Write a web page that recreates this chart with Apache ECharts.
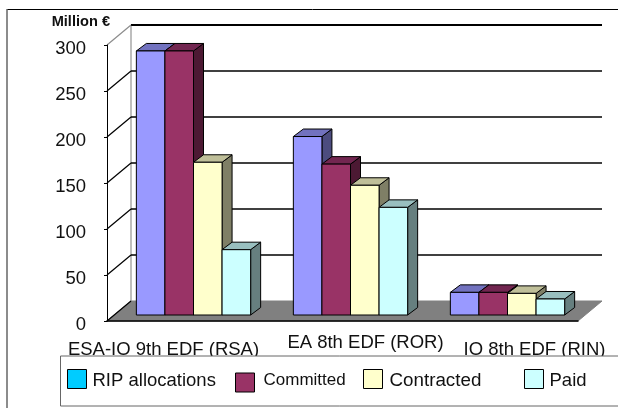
<!DOCTYPE html>
<html>
<head>
<meta charset="utf-8">
<style>html,body{margin:0;padding:0;background:#fff}#chart{width:618px;height:408px}</style>
<script src="https://cdn.jsdelivr.net/npm/echarts@6/dist/echarts.min.js"></script>
</head>
<body>
<div id="chart"></div>
<script>
// Funding per regional programme, million euro
const categories = ['ESA-IO 9th EDF (RSA)', 'EA 8th EDF (ROR)', 'IO 8th EDF (RIN)'];
const ripAllocations = [287, 194, 24.6];
const committed = [287, 164, 24.6];
const contracted = [166, 141, 23.5];
const paid = [71, 117, 17.4];
const yTicks = [0, 50, 100, 150, 200, 250, 300];
const seriesNames = ['RIP allocations', 'Committed', 'Contracted', 'Paid'];
const seriesValues = [ripAllocations, committed, contracted, paid];

// Face colours of each bar: front, top, side
const faces = [
  ['#9999FF', '#7272BF', '#4C4C7F'],
  ['#993366', '#722650', '#4C1933'],
  ['#FFFFCC', '#BFBF99', '#7F7F66'],
  ['#CCFFFF', '#99BFBF', '#667F7F']
];
const legendSwatch = ['#00CCFF', '#993366', '#FFFFCC', '#CCFFFF'];

// Oblique projection of the box and of the bars inside it
const WALL_DX = 24, WALL_DY = -20;
const BAR_DX = 10, BAR_DY = -7.5;
const BAR_PLANE_DX = 8, BAR_PLANE_DY = -6;
const BAR_SHARE = 0.182;

const ink = { stroke: '#000', lineWidth: 1 };

function renderBar(index) {
  return function (params, api) {
    const cat = api.value(0);
    const top = api.coord([cat, api.value(1)]);
    const base = api.coord([cat, 0]);
    const w = api.size([1, 0])[0] * BAR_SHARE;
    const x0 = top[0] + BAR_PLANE_DX + (index - 2) * w;
    const x1 = x0 + w;
    const yT = top[1] + BAR_PLANE_DY;
    const yB = base[1] + BAR_PLANE_DY;
    const poly = (points, fill) => ({
      type: 'polygon',
      shape: { points },
      style: Object.assign({ fill }, ink)
    });
    return {
      type: 'group',
      children: [
        poly([[x1, yT], [x1 + BAR_DX, yT + BAR_DY], [x1 + BAR_DX, yB + BAR_DY], [x1, yB]], faces[index][2]),
        poly([[x0, yT], [x0 + BAR_DX, yT + BAR_DY], [x1 + BAR_DX, yT + BAR_DY], [x1, yT]], faces[index][1]),
        poly([[x0, yT], [x1, yT], [x1, yB], [x0, yB]], faces[index][0])
      ]
    };
  };
}

// Back wall rules and the slanted strokes that join them to the value axis
function renderWall(params, api) {
  const v = api.value(0);
  const left = api.coord([0, v]);
  const xLeft = params.coordSys.x;
  const xRight = xLeft + params.coordSys.width;
  const y = left[1];
  const isTop = v === yTicks[yTicks.length - 1];
  const children = [];
  if (v > 0) {
    children.push({
      type: 'line',
      shape: { x1: xLeft + WALL_DX, y1: y + WALL_DY, x2: xRight + WALL_DX, y2: y + WALL_DY },
      style: { stroke: '#000', lineWidth: isTop ? 2 : 1.5 }
    });
  }
  children.push({
    type: 'line',
    shape: { x1: xLeft, y1: y, x2: xLeft + WALL_DX, y2: y + WALL_DY },
    style: { stroke: isTop ? '#8c8c8c' : '#000', lineWidth: 1.2 }
  });
  return { type: 'group', children };
}

function renderFloor(params, api) {
  const y0 = api.coord([0, 0])[1];
  const yTop = api.coord([0, yTicks[yTicks.length - 1]])[1];
  const xL = params.coordSys.x;
  const xR = xL + params.coordSys.width;
  return {
    type: 'group',
    children: [
      {
        type: 'line',
        shape: { x1: xL + WALL_DX, y1: yTop + WALL_DY, x2: xL + WALL_DX, y2: y0 + WALL_DY },
        style: { stroke: '#a8a8a8', lineWidth: 1.5 }
      },
      {
        type: 'polygon',
        shape: { points: [[xL, y0], [xL + WALL_DX, y0 + WALL_DY], [xR + WALL_DX, y0 + WALL_DY], [xR, y0]] },
        style: { fill: '#808080', stroke: '#808080', lineWidth: 1 }
      }
    ]
  };
}

const legendLayout = [
  { left: 67, top: 369, gap: 1, size: 18.5, above: 4, below: 0 },
  { left: 235, top: 372, gap: 4, size: 17, above: 0, below: 4 },
  { left: 363, top: 369, gap: 2, size: 18.8, above: 4, below: 0 },
  { left: 524, top: 369, gap: 1, size: 18.5, above: 4, below: 0 }
];

const option = {
  animation: false,
  backgroundColor: '#fff',
  textStyle: { fontFamily: '"Liberation Sans", Arial, sans-serif' },
  grid: { left: 107, right: 40, top: 45, bottom: 87 },
  xAxis: {
    type: 'category',
    z: 4,
    data: categories,
    axisLine: { lineStyle: { color: '#000', width: 1.5 } },
    axisTick: { alignWithLabel: false, length: 5, lineStyle: { color: '#000' } },
    axisLabel: {
      interval: 0,
      margin: 11,
      color: '#111',
      formatter: (value, i) => `{c${i}|${value}}`,
      rich: {
        c0: { fontSize: 18.5, padding: [17, 44, 0, 0], lineHeight: 18, fontFamily: '"Liberation Sans"' },
        c1: { fontSize: 18.5, padding: [3, 0, 0, 46], lineHeight: 18, fontFamily: '"Liberation Sans"' },
        c2: { fontSize: 18.5, padding: [17, 0, 0, 70], lineHeight: 18, fontFamily: '"Liberation Sans"' }
      }
    }
  },
  yAxis: {
    type: 'value',
    z: 4,
    min: 0,
    max: 300,
    interval: 50,
    name: 'Million €',
    nameLocation: 'end',
    nameGap: 16,
    nameTextStyle: {
      color: '#111', fontSize: 14.6, fontWeight: 'bold',
      fontFamily: '"Liberation Sans"', align: 'right', padding: [0, -3, 0, 0]
    },
    axisLine: { show: true, lineStyle: { color: '#000', width: 1 } },
    axisTick: { show: true, length: 3, lineStyle: { color: '#000' } },
    splitLine: { show: false },
    axisLabel: {
      color: '#111', margin: 21,
      formatter: value => `{v|${value}}`,
      rich: {
        v: { fontSize: 18.5, padding: [8, 0, 0, 0], fontFamily: '"Liberation Sans"' }
      }
    }
  },
  legend: seriesNames.map((name, i) => ({
    left: legendLayout[i].left,
    top: legendLayout[i].top,
    z: 6,
    padding: 0,
    itemWidth: 19,
    itemHeight: 19,
    selectedMode: false,
    formatter: label => `{t|${label}}`,
    textStyle: {
      color: '#111',
      rich: {
        t: {
          fontSize: legendLayout[i].size,
          color: '#111',
          fontFamily: '"Liberation Sans"',
          padding: [legendLayout[i].above, 0, legendLayout[i].below, legendLayout[i].gap]
        }
      }
    },
    data: [{
      name,
      icon: 'rect',
      itemStyle: { color: legendSwatch[i], borderColor: '#000', borderWidth: 1 }
    }]
  })),
  graphic: [
    { type: 'line', z: 1, silent: true, shape: { x1: 7, y1: 9.5, x2: 618, y2: 9.5 }, style: { stroke: '#000', lineWidth: 1 } },
    { type: 'line', z: 1, silent: true, shape: { x1: 7, y1: 9, x2: 7, y2: 408 }, style: { stroke: '#666', lineWidth: 1.5 } },
    {
      type: 'rect', z: 5, silent: true,
      shape: { x: 60.5, y: 356, width: 560, height: 50 },
      style: { fill: '#fff', stroke: '#666', lineWidth: 1 }
    }
  ],
  series: [
    {
      type: 'custom', name: 'floor', z: 1, silent: true,
      coordinateSystem: 'cartesian2d',
      data: [[0, 0]],
      clip: false,
      renderItem: renderFloor
    },
    {
      type: 'custom', name: 'wall', z: 2, silent: true,
      coordinateSystem: 'cartesian2d',
      data: yTicks.map(v => [v]),
      encode: { y: 0 },
      clip: false,
      renderItem: renderWall
    }
  ].concat(seriesNames.map((name, i) => ({
    type: 'custom',
    name,
    z: 3,
    coordinateSystem: 'cartesian2d',
    itemStyle: { color: legendSwatch[i] },
    encode: { x: 0, y: 1 },
    clip: false,
    data: seriesValues[i].map((v, c) => [c, v]),
    renderItem: renderBar(i)
  })))
};

echarts.init(document.getElementById('chart'), null, { renderer: 'canvas' }).setOption(option);
</script>
</body>
</html>
